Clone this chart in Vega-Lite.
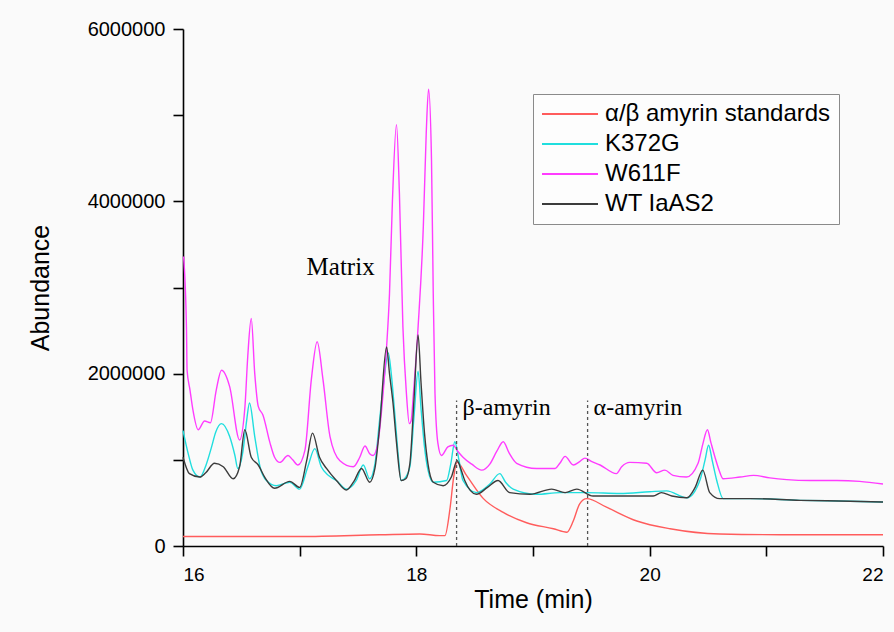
{
  "$schema": "https://vega.github.io/schema/vega-lite/v6.json",
  "width": 700,
  "height": 517,
  "autosize": {"type": "none"},
  "padding": {"left": 183, "top": 29, "right": 11, "bottom": 86},
  "background": "#fafafa",
  "config": {
    "view": {"stroke": null},
    "font": "Liberation Sans",
    "axis": {
      "domainColor": "#000000",
      "domainWidth": 1.6,
      "tickColor": "#000000",
      "tickWidth": 1.6,
      "tickSize": 10,
      "grid": false,
      "labelFont": "Liberation Sans",
      "labelFontSize": 19,
      "labelColor": "#000000",
      "titleFont": "Liberation Sans",
      "titleFontSize": 25,
      "titleFontWeight": "normal",
      "titleColor": "#000000"
    }
  },
  "datasets": {
    "curves": [
      {"time": 16.0, "abundance": 110000, "series": "α/β amyrin standards"},
      {"time": 17.0, "abundance": 110000, "series": "α/β amyrin standards"},
      {"time": 17.685, "abundance": 130000, "series": "α/β amyrin standards"},
      {"time": 18.03, "abundance": 140000, "series": "α/β amyrin standards"},
      {"time": 18.2, "abundance": 120000, "series": "α/β amyrin standards"},
      {"time": 18.245, "abundance": 120000, "series": "α/β amyrin standards"},
      {"time": 18.29, "abundance": 450000, "series": "α/β amyrin standards"},
      {"time": 18.32, "abundance": 800000, "series": "α/β amyrin standards"},
      {"time": 18.35, "abundance": 970000, "series": "α/β amyrin standards"},
      {"time": 18.43, "abundance": 820000, "series": "α/β amyrin standards"},
      {"time": 18.575, "abundance": 550000, "series": "α/β amyrin standards"},
      {"time": 18.745, "abundance": 390000, "series": "α/β amyrin standards"},
      {"time": 18.945, "abundance": 270000, "series": "α/β amyrin standards"},
      {"time": 19.175, "abundance": 200000, "series": "α/β amyrin standards"},
      {"time": 19.29, "abundance": 160000, "series": "α/β amyrin standards"},
      {"time": 19.345, "abundance": 290000, "series": "α/β amyrin standards"},
      {"time": 19.4, "abundance": 490000, "series": "α/β amyrin standards"},
      {"time": 19.46, "abundance": 550000, "series": "α/β amyrin standards"},
      {"time": 19.63, "abundance": 450000, "series": "α/β amyrin standards"},
      {"time": 19.89, "abundance": 290000, "series": "α/β amyrin standards"},
      {"time": 20.175, "abundance": 200000, "series": "α/β amyrin standards"},
      {"time": 20.6, "abundance": 140000, "series": "α/β amyrin standards"},
      {"time": 21.29, "abundance": 130000, "series": "α/β amyrin standards"},
      {"time": 22.0, "abundance": 130000, "series": "α/β amyrin standards"},

      {"time": 16.0, "abundance": 1340000, "series": "K372G"},
      {"time": 16.045, "abundance": 1070000, "series": "K372G"},
      {"time": 16.085, "abundance": 880000, "series": "K372G"},
      {"time": 16.145, "abundance": 800000, "series": "K372G"},
      {"time": 16.2, "abundance": 950000, "series": "K372G"},
      {"time": 16.245, "abundance": 1150000, "series": "K372G"},
      {"time": 16.28, "abundance": 1320000, "series": "K372G"},
      {"time": 16.33, "abundance": 1420000, "series": "K372G"},
      {"time": 16.4, "abundance": 1270000, "series": "K372G"},
      {"time": 16.445, "abundance": 1050000, "series": "K372G"},
      {"time": 16.47, "abundance": 900000, "series": "K372G"},
      {"time": 16.515, "abundance": 1110000, "series": "K372G"},
      {"time": 16.545, "abundance": 1450000, "series": "K372G"},
      {"time": 16.57, "abundance": 1660000, "series": "K372G"},
      {"time": 16.615, "abundance": 1270000, "series": "K372G"},
      {"time": 16.66, "abundance": 920000, "series": "K372G"},
      {"time": 16.715, "abundance": 760000, "series": "K372G"},
      {"time": 16.8, "abundance": 700000, "series": "K372G"},
      {"time": 16.915, "abundance": 740000, "series": "K372G"},
      {"time": 17.0, "abundance": 660000, "series": "K372G"},
      {"time": 17.07, "abundance": 920000, "series": "K372G"},
      {"time": 17.13, "abundance": 1130000, "series": "K372G"},
      {"time": 17.185, "abundance": 920000, "series": "K372G"},
      {"time": 17.245, "abundance": 820000, "series": "K372G"},
      {"time": 17.315, "abundance": 760000, "series": "K372G"},
      {"time": 17.4, "abundance": 660000, "series": "K372G"},
      {"time": 17.485, "abundance": 760000, "series": "K372G"},
      {"time": 17.545, "abundance": 940000, "series": "K372G"},
      {"time": 17.6, "abundance": 780000, "series": "K372G"},
      {"time": 17.645, "abundance": 950000, "series": "K372G"},
      {"time": 17.685, "abundance": 1460000, "series": "K372G"},
      {"time": 17.72, "abundance": 1900000, "series": "K372G"},
      {"time": 17.76, "abundance": 2240000, "series": "K372G"},
      {"time": 17.785, "abundance": 2000000, "series": "K372G"},
      {"time": 17.815, "abundance": 1540000, "series": "K372G"},
      {"time": 17.845, "abundance": 1050000, "series": "K372G"},
      {"time": 17.87, "abundance": 760000, "series": "K372G"},
      {"time": 17.91, "abundance": 800000, "series": "K372G"},
      {"time": 17.945, "abundance": 920000, "series": "K372G"},
      {"time": 17.98, "abundance": 1500000, "series": "K372G"},
      {"time": 18.015, "abundance": 2030000, "series": "K372G"},
      {"time": 18.04, "abundance": 1600000, "series": "K372G"},
      {"time": 18.07, "abundance": 1150000, "series": "K372G"},
      {"time": 18.1, "abundance": 880000, "series": "K372G"},
      {"time": 18.145, "abundance": 740000, "series": "K372G"},
      {"time": 18.26, "abundance": 760000, "series": "K372G"},
      {"time": 18.295, "abundance": 950000, "series": "K372G"},
      {"time": 18.33, "abundance": 1210000, "series": "K372G"},
      {"time": 18.365, "abundance": 1000000, "series": "K372G"},
      {"time": 18.4, "abundance": 760000, "series": "K372G"},
      {"time": 18.515, "abundance": 620000, "series": "K372G"},
      {"time": 18.63, "abundance": 720000, "series": "K372G"},
      {"time": 18.715, "abundance": 840000, "series": "K372G"},
      {"time": 18.765, "abundance": 740000, "series": "K372G"},
      {"time": 18.83, "abundance": 660000, "series": "K372G"},
      {"time": 19.03, "abundance": 600000, "series": "K372G"},
      {"time": 19.23, "abundance": 620000, "series": "K372G"},
      {"time": 19.46, "abundance": 620000, "series": "K372G"},
      {"time": 19.745, "abundance": 610000, "series": "K372G"},
      {"time": 20.0, "abundance": 630000, "series": "K372G"},
      {"time": 20.145, "abundance": 640000, "series": "K372G"},
      {"time": 20.32, "abundance": 560000, "series": "K372G"},
      {"time": 20.43, "abundance": 760000, "series": "K372G"},
      {"time": 20.475, "abundance": 1000000, "series": "K372G"},
      {"time": 20.505, "abundance": 1170000, "series": "K372G"},
      {"time": 20.535, "abundance": 1000000, "series": "K372G"},
      {"time": 20.575, "abundance": 760000, "series": "K372G"},
      {"time": 20.63, "abundance": 550000, "series": "K372G"},
      {"time": 20.86, "abundance": 550000, "series": "K372G"},
      {"time": 21.29, "abundance": 530000, "series": "K372G"},
      {"time": 21.72, "abundance": 520000, "series": "K372G"},
      {"time": 22.0, "abundance": 510000, "series": "K372G"},

      {"time": 16.005, "abundance": 3360000, "series": "W611F"},
      {"time": 16.03, "abundance": 2510000, "series": "W611F"},
      {"time": 16.035, "abundance": 2040000, "series": "W611F"},
      {"time": 16.06, "abundance": 1810000, "series": "W611F"},
      {"time": 16.085, "abundance": 1580000, "series": "W611F"},
      {"time": 16.13, "abundance": 1350000, "series": "W611F"},
      {"time": 16.185, "abundance": 1450000, "series": "W611F"},
      {"time": 16.235, "abundance": 1430000, "series": "W611F"},
      {"time": 16.285, "abundance": 1810000, "series": "W611F"},
      {"time": 16.33, "abundance": 2040000, "series": "W611F"},
      {"time": 16.4, "abundance": 1850000, "series": "W611F"},
      {"time": 16.485, "abundance": 1230000, "series": "W611F"},
      {"time": 16.53, "abundance": 1600000, "series": "W611F"},
      {"time": 16.555, "abundance": 2200000, "series": "W611F"},
      {"time": 16.585, "abundance": 2640000, "series": "W611F"},
      {"time": 16.615, "abundance": 2000000, "series": "W611F"},
      {"time": 16.645, "abundance": 1620000, "series": "W611F"},
      {"time": 16.685, "abundance": 1520000, "series": "W611F"},
      {"time": 16.745, "abundance": 1200000, "series": "W611F"},
      {"time": 16.785, "abundance": 1030000, "series": "W611F"},
      {"time": 16.83, "abundance": 970000, "series": "W611F"},
      {"time": 16.9, "abundance": 1050000, "series": "W611F"},
      {"time": 16.94, "abundance": 1000000, "series": "W611F"},
      {"time": 16.985, "abundance": 940000, "series": "W611F"},
      {"time": 17.045, "abundance": 1110000, "series": "W611F"},
      {"time": 17.1, "abundance": 1930000, "series": "W611F"},
      {"time": 17.15, "abundance": 2370000, "series": "W611F"},
      {"time": 17.2, "abundance": 1930000, "series": "W611F"},
      {"time": 17.26, "abundance": 1270000, "series": "W611F"},
      {"time": 17.345, "abundance": 990000, "series": "W611F"},
      {"time": 17.46, "abundance": 920000, "series": "W611F"},
      {"time": 17.515, "abundance": 1030000, "series": "W611F"},
      {"time": 17.56, "abundance": 1160000, "series": "W611F"},
      {"time": 17.6, "abundance": 1070000, "series": "W611F"},
      {"time": 17.63, "abundance": 1050000, "series": "W611F"},
      {"time": 17.67, "abundance": 1190000, "series": "W611F"},
      {"time": 17.715, "abundance": 1770000, "series": "W611F"},
      {"time": 17.745, "abundance": 2310000, "series": "W611F"},
      {"time": 17.77, "abundance": 2930000, "series": "W611F"},
      {"time": 17.795, "abundance": 4000000, "series": "W611F"},
      {"time": 17.83, "abundance": 4890000, "series": "W611F"},
      {"time": 17.855, "abundance": 4090000, "series": "W611F"},
      {"time": 17.885, "abundance": 2540000, "series": "W611F"},
      {"time": 17.915, "abundance": 1770000, "series": "W611F"},
      {"time": 17.94, "abundance": 1420000, "series": "W611F"},
      {"time": 17.955, "abundance": 1450000, "series": "W611F"},
      {"time": 17.975, "abundance": 1770000, "series": "W611F"},
      {"time": 18.015, "abundance": 2540000, "series": "W611F"},
      {"time": 18.06, "abundance": 3710000, "series": "W611F"},
      {"time": 18.085, "abundance": 4800000, "series": "W611F"},
      {"time": 18.105, "abundance": 5300000, "series": "W611F"},
      {"time": 18.13, "abundance": 4480000, "series": "W611F"},
      {"time": 18.145, "abundance": 2930000, "series": "W611F"},
      {"time": 18.16, "abundance": 1770000, "series": "W611F"},
      {"time": 18.185, "abundance": 1190000, "series": "W611F"},
      {"time": 18.215, "abundance": 1050000, "series": "W611F"},
      {"time": 18.27, "abundance": 1150000, "series": "W611F"},
      {"time": 18.315, "abundance": 1170000, "series": "W611F"},
      {"time": 18.355, "abundance": 1100000, "series": "W611F"},
      {"time": 18.4, "abundance": 1030000, "series": "W611F"},
      {"time": 18.475, "abundance": 950000, "series": "W611F"},
      {"time": 18.56, "abundance": 880000, "series": "W611F"},
      {"time": 18.63, "abundance": 950000, "series": "W611F"},
      {"time": 18.69, "abundance": 1100000, "series": "W611F"},
      {"time": 18.745, "abundance": 1210000, "series": "W611F"},
      {"time": 18.795, "abundance": 1080000, "series": "W611F"},
      {"time": 18.86, "abundance": 960000, "series": "W611F"},
      {"time": 19.03, "abundance": 900000, "series": "W611F"},
      {"time": 19.19, "abundance": 900000, "series": "W611F"},
      {"time": 19.23, "abundance": 960000, "series": "W611F"},
      {"time": 19.275, "abundance": 1040000, "series": "W611F"},
      {"time": 19.345, "abundance": 940000, "series": "W611F"},
      {"time": 19.4, "abundance": 980000, "series": "W611F"},
      {"time": 19.445, "abundance": 1020000, "series": "W611F"},
      {"time": 19.505, "abundance": 980000, "series": "W611F"},
      {"time": 19.575, "abundance": 940000, "series": "W611F"},
      {"time": 19.715, "abundance": 840000, "series": "W611F"},
      {"time": 19.76, "abundance": 920000, "series": "W611F"},
      {"time": 19.83, "abundance": 970000, "series": "W611F"},
      {"time": 19.975, "abundance": 960000, "series": "W611F"},
      {"time": 20.06, "abundance": 850000, "series": "W611F"},
      {"time": 20.13, "abundance": 880000, "series": "W611F"},
      {"time": 20.2, "abundance": 820000, "series": "W611F"},
      {"time": 20.315, "abundance": 800000, "series": "W611F"},
      {"time": 20.415, "abundance": 960000, "series": "W611F"},
      {"time": 20.455, "abundance": 1180000, "series": "W611F"},
      {"time": 20.495, "abundance": 1350000, "series": "W611F"},
      {"time": 20.525, "abundance": 1200000, "series": "W611F"},
      {"time": 20.56, "abundance": 1030000, "series": "W611F"},
      {"time": 20.595, "abundance": 880000, "series": "W611F"},
      {"time": 20.63, "abundance": 780000, "series": "W611F"},
      {"time": 20.775, "abundance": 800000, "series": "W611F"},
      {"time": 20.89, "abundance": 820000, "series": "W611F"},
      {"time": 21.03, "abundance": 790000, "series": "W611F"},
      {"time": 21.175, "abundance": 770000, "series": "W611F"},
      {"time": 21.375, "abundance": 760000, "series": "W611F"},
      {"time": 21.605, "abundance": 760000, "series": "W611F"},
      {"time": 21.8, "abundance": 750000, "series": "W611F"},
      {"time": 22.0, "abundance": 720000, "series": "W611F"},

      {"time": 16.0, "abundance": 1030000, "series": "WT IaAS2"},
      {"time": 16.055, "abundance": 840000, "series": "WT IaAS2"},
      {"time": 16.145, "abundance": 800000, "series": "WT IaAS2"},
      {"time": 16.195, "abundance": 850000, "series": "WT IaAS2"},
      {"time": 16.27, "abundance": 960000, "series": "WT IaAS2"},
      {"time": 16.345, "abundance": 920000, "series": "WT IaAS2"},
      {"time": 16.43, "abundance": 780000, "series": "WT IaAS2"},
      {"time": 16.485, "abundance": 920000, "series": "WT IaAS2"},
      {"time": 16.53, "abundance": 1350000, "series": "WT IaAS2"},
      {"time": 16.585, "abundance": 1030000, "series": "WT IaAS2"},
      {"time": 16.645, "abundance": 940000, "series": "WT IaAS2"},
      {"time": 16.7, "abundance": 800000, "series": "WT IaAS2"},
      {"time": 16.785, "abundance": 670000, "series": "WT IaAS2"},
      {"time": 16.915, "abundance": 750000, "series": "WT IaAS2"},
      {"time": 17.0, "abundance": 680000, "series": "WT IaAS2"},
      {"time": 17.06, "abundance": 990000, "series": "WT IaAS2"},
      {"time": 17.11, "abundance": 1310000, "series": "WT IaAS2"},
      {"time": 17.17, "abundance": 1030000, "series": "WT IaAS2"},
      {"time": 17.23, "abundance": 900000, "series": "WT IaAS2"},
      {"time": 17.315, "abundance": 760000, "series": "WT IaAS2"},
      {"time": 17.4, "abundance": 650000, "series": "WT IaAS2"},
      {"time": 17.465, "abundance": 750000, "series": "WT IaAS2"},
      {"time": 17.53, "abundance": 900000, "series": "WT IaAS2"},
      {"time": 17.6, "abundance": 740000, "series": "WT IaAS2"},
      {"time": 17.645, "abundance": 900000, "series": "WT IaAS2"},
      {"time": 17.685, "abundance": 1380000, "series": "WT IaAS2"},
      {"time": 17.745, "abundance": 2310000, "series": "WT IaAS2"},
      {"time": 17.77, "abundance": 2000000, "series": "WT IaAS2"},
      {"time": 17.8, "abundance": 1660000, "series": "WT IaAS2"},
      {"time": 17.83, "abundance": 1200000, "series": "WT IaAS2"},
      {"time": 17.87, "abundance": 760000, "series": "WT IaAS2"},
      {"time": 17.91, "abundance": 780000, "series": "WT IaAS2"},
      {"time": 17.945, "abundance": 960000, "series": "WT IaAS2"},
      {"time": 17.98, "abundance": 1700000, "series": "WT IaAS2"},
      {"time": 18.015, "abundance": 2450000, "series": "WT IaAS2"},
      {"time": 18.04, "abundance": 1900000, "series": "WT IaAS2"},
      {"time": 18.07, "abundance": 1310000, "series": "WT IaAS2"},
      {"time": 18.1, "abundance": 950000, "series": "WT IaAS2"},
      {"time": 18.145, "abundance": 740000, "series": "WT IaAS2"},
      {"time": 18.23, "abundance": 700000, "series": "WT IaAS2"},
      {"time": 18.3, "abundance": 800000, "series": "WT IaAS2"},
      {"time": 18.35, "abundance": 990000, "series": "WT IaAS2"},
      {"time": 18.38, "abundance": 900000, "series": "WT IaAS2"},
      {"time": 18.415, "abundance": 760000, "series": "WT IaAS2"},
      {"time": 18.515, "abundance": 600000, "series": "WT IaAS2"},
      {"time": 18.61, "abundance": 680000, "series": "WT IaAS2"},
      {"time": 18.7, "abundance": 760000, "series": "WT IaAS2"},
      {"time": 18.8, "abundance": 620000, "series": "WT IaAS2"},
      {"time": 18.975, "abundance": 600000, "series": "WT IaAS2"},
      {"time": 19.16, "abundance": 660000, "series": "WT IaAS2"},
      {"time": 19.275, "abundance": 620000, "series": "WT IaAS2"},
      {"time": 19.375, "abundance": 660000, "series": "WT IaAS2"},
      {"time": 19.515, "abundance": 580000, "series": "WT IaAS2"},
      {"time": 19.745, "abundance": 580000, "series": "WT IaAS2"},
      {"time": 20.03, "abundance": 580000, "series": "WT IaAS2"},
      {"time": 20.1, "abundance": 620000, "series": "WT IaAS2"},
      {"time": 20.19, "abundance": 580000, "series": "WT IaAS2"},
      {"time": 20.32, "abundance": 560000, "series": "WT IaAS2"},
      {"time": 20.39, "abundance": 680000, "series": "WT IaAS2"},
      {"time": 20.455, "abundance": 880000, "series": "WT IaAS2"},
      {"time": 20.515, "abundance": 620000, "series": "WT IaAS2"},
      {"time": 20.6, "abundance": 550000, "series": "WT IaAS2"},
      {"time": 20.86, "abundance": 550000, "series": "WT IaAS2"},
      {"time": 21.29, "abundance": 530000, "series": "WT IaAS2"},
      {"time": 21.72, "abundance": 520000, "series": "WT IaAS2"},
      {"time": 22.0, "abundance": 510000, "series": "WT IaAS2"}
    ],
    "markers": [
      {"time": 18.345, "base": 0, "top": 1690000, "label": "β-amyrin", "labelY": 1520000},
      {"time": 19.468, "base": 0, "top": 1690000, "label": "α-amyrin", "labelY": 1520000}
    ],
    "notes": [
      {"time": 17.351, "abundance": 3145000, "label": "Matrix"}
    ]
  },
  "layer": [
    {
      "data": {"name": "curves"},
      "mark": {"type": "line", "strokeWidth": 1.4, "interpolate": "monotone"},
      "encoding": {
        "x": {
          "field": "time", "type": "quantitative",
          "scale": {"domain": [16, 22], "nice": false, "zero": false},
          "axis": {
            "title": "Time (min)",
            "values": [16, 17, 18, 19, 20, 21, 22],
            "format": "d",
            "labelExpr": "datum.value % 2 == 0 ? format(datum.value, 'd') : ''",
            "labelPadding": 9,
            "titlePadding": 3
          }
        },
        "y": {
          "field": "abundance", "type": "quantitative",
          "scale": {"domain": [0, 6000000], "nice": false},
          "axis": {
            "title": "Abundance",
            "values": [0, 1000000, 2000000, 3000000, 4000000, 5000000, 6000000],
            "format": "d",
            "labelExpr": "datum.value % 2000000 == 0 ? format(datum.value, 'd') : ''",
            "labelFontSize": 20,
            "labelPadding": 8,
            "titlePadding": 34
          }
        },
        "color": {
          "field": "series", "type": "nominal",
          "scale": {
            "domain": ["α/β amyrin standards", "K372G", "W611F", "WT IaAS2"],
            "range": ["#ff5c5c", "#20dede", "#ff3cff", "#3c3c3c"]
          },
          "legend": {
            "title": null,
            "orient": "none",
            "legendX": 350,
            "legendY": 65,
            "strokeColor": "#8a8a8a",
            "fillColor": "#fdfdfd",
            "padding": 8,
            "symbolType": "stroke",
            "symbolSize": 3136,
            "symbolStrokeWidth": 1.8,
            "clipHeight": 24,
            "rowPadding": 6,
            "labelOffset": 6,
            "labelFont": "Liberation Sans",
            "labelFontSize": 24,
            "labelColor": "#000000",
            "labelLimit": 400
          }
        }
      }
    },
    {
      "data": {"name": "markers"},
      "mark": {"type": "rule", "color": "#555555", "strokeWidth": 1.3, "strokeDash": [3, 3]},
      "encoding": {
        "x": {"field": "time", "type": "quantitative"},
        "y": {"field": "base", "type": "quantitative"},
        "y2": {"field": "top"}
      }
    },
    {
      "data": {"name": "markers"},
      "mark": {"type": "text", "font": "Liberation Serif", "fontSize": 24, "align": "left", "baseline": "alphabetic", "dx": 6, "color": "#000000"},
      "encoding": {
        "x": {"field": "time", "type": "quantitative"},
        "y": {"field": "labelY", "type": "quantitative"},
        "text": {"field": "label"}
      }
    },
    {
      "data": {"name": "notes"},
      "mark": {"type": "text", "font": "Liberation Serif", "fontSize": 25, "align": "center", "baseline": "alphabetic", "color": "#000000"},
      "encoding": {
        "x": {"field": "time", "type": "quantitative"},
        "y": {"field": "abundance", "type": "quantitative"},
        "text": {"field": "label"}
      }
    }
  ]
}
